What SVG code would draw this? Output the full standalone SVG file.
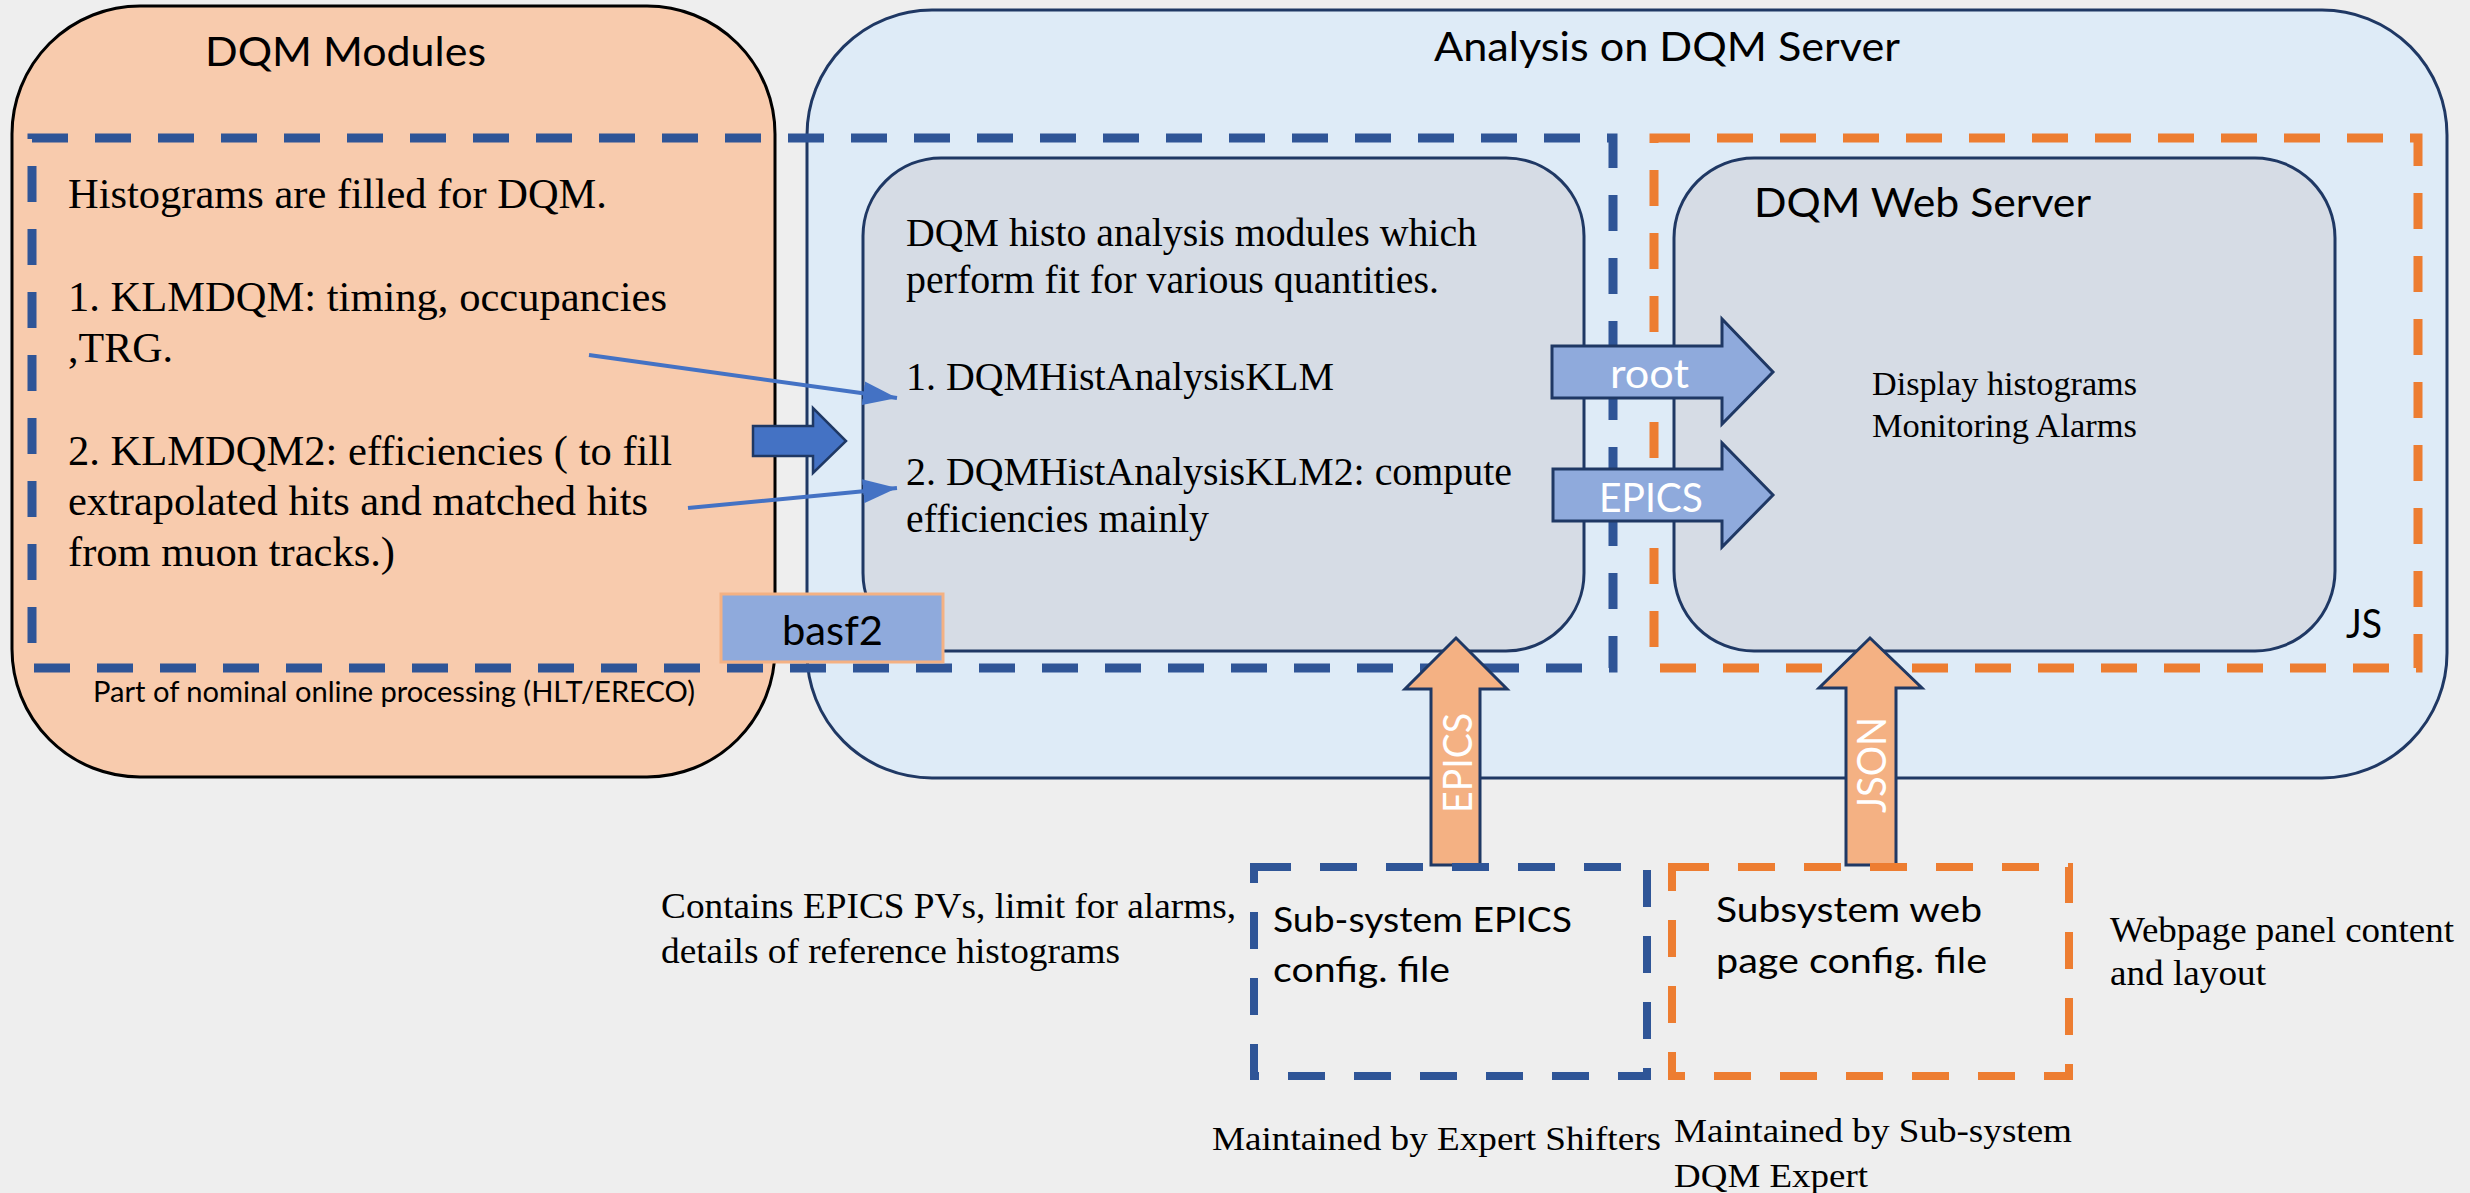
<svg xmlns="http://www.w3.org/2000/svg" width="2470" height="1193" viewBox="0 0 2470 1193">
<defs>
<style>
.sans{font-family:Lato,'Liberation Sans',sans-serif;fill:#000}
.serif{font-family:'Liberation Serif','Times New Roman',serif;fill:#000}
.box-orange{fill:#F8CBAD;stroke:#000;stroke-width:3}
.box-blue{fill:#DEEBF7;stroke:#1F3864;stroke-width:3}
.box-gray{fill:#D6DCE5;stroke:#1F3864;stroke-width:3}
.dash-blue{fill:none;stroke:#2F5597;stroke-width:9;stroke-dasharray:36 27}
.dash-orange{fill:none;stroke:#ED7D31;stroke-width:9;stroke-dasharray:36 27}
.dash-blue-s{fill:none;stroke:#2F5597;stroke-width:8;stroke-dasharray:37 29}
.dash-orange-s{fill:none;stroke:#ED7D31;stroke-width:8;stroke-dasharray:37 29}
.thin{fill:none;stroke:#4472C4;stroke-width:4;marker-end:url(#ah)}
.blk-dark{fill:#4472C4;stroke:#1F3864;stroke-width:2.5}
.blk-light{fill:#8FAADC;stroke:#1F3864;stroke-width:3}
.blk-orange{fill:#F4B183;stroke:#1F3864;stroke-width:3}
.basf2{fill:#8FAADC;stroke:#F4B183;stroke-width:3}
.w{fill:#fff}
</style>
<marker id="ah" markerUnits="userSpaceOnUse" viewBox="0 0 34 24" refX="34" refY="12" markerWidth="34" markerHeight="24" orient="auto"><path d="M0,0 L34,12 L0,24 Z" fill="#4472C4"/></marker>
</defs>
<rect x="0" y="0" width="2470" height="1193" fill="#EEEEEE"/>

<g id="dqm-modules">
<rect class="box-orange" x="12" y="6" width="763" height="771" rx="128" ry="128"/>
<text class="sans" x="205" y="66" font-size="41" textLength="281" lengthAdjust="spacingAndGlyphs">DQM Modules</text>
<g class="serif" font-size="42">
<text x="68" y="208" textLength="539" lengthAdjust="spacingAndGlyphs">Histograms are filled for DQM.</text>
<text x="68" y="311" textLength="599" lengthAdjust="spacingAndGlyphs">1. KLMDQM: timing, occupancies</text>
<text x="68" y="362" textLength="105" lengthAdjust="spacingAndGlyphs">,TRG.</text>
<text x="68" y="465" textLength="604" lengthAdjust="spacingAndGlyphs">2. KLMDQM2: efficiencies ( to fill</text>
<text x="68" y="515" textLength="580" lengthAdjust="spacingAndGlyphs">extrapolated hits and matched hits</text>
<text x="68" y="566" textLength="327" lengthAdjust="spacingAndGlyphs">from muon tracks.)</text>
</g>
</g>

<g id="analysis-server">
<rect class="box-blue" x="807" y="10" width="1640" height="768" rx="125" ry="125"/>
<text class="sans" x="1434" y="61" font-size="41" textLength="466" lengthAdjust="spacingAndGlyphs">Analysis on DQM Server</text>
</g>

<g id="histo-analysis">
<rect class="box-gray" x="863" y="158" width="721" height="493" rx="78" ry="78"/>
<g class="serif" font-size="41">
<text x="906" y="246" textLength="571" lengthAdjust="spacingAndGlyphs">DQM histo analysis modules which</text>
<text x="906" y="293" textLength="533" lengthAdjust="spacingAndGlyphs">perform fit for various quantities.</text>
<text x="906" y="390" textLength="428" lengthAdjust="spacingAndGlyphs">1. DQMHistAnalysisKLM</text>
<text x="906" y="485" textLength="606" lengthAdjust="spacingAndGlyphs">2. DQMHistAnalysisKLM2: compute</text>
<text x="906" y="532" textLength="303" lengthAdjust="spacingAndGlyphs">efficiencies mainly</text>
</g>
</g>

<g id="web-server">
<rect class="box-gray" x="1674" y="158" width="661" height="493" rx="80" ry="80"/>
<text class="sans" x="1754" y="217" font-size="41" textLength="337" lengthAdjust="spacingAndGlyphs">DQM Web Server</text>
<text class="serif" x="1872" y="395" font-size="34" textLength="265" lengthAdjust="spacingAndGlyphs">Display histograms</text>
<text class="serif" x="1872" y="437" font-size="34" textLength="265" lengthAdjust="spacingAndGlyphs">Monitoring Alarms</text>
</g>

<g id="basf2-region">
<rect class="dash-blue" x="32" y="138" width="1581" height="530"/>
<text class="sans" x="93" y="702" font-size="29" textLength="602" lengthAdjust="spacingAndGlyphs">Part of nominal online processing (HLT/ERECO)</text>
</g>

<g id="js-region">
<rect class="dash-orange" x="1654" y="138" width="764" height="530"/>
<text class="sans" x="2346" y="638" font-size="40" textLength="36" lengthAdjust="spacingAndGlyphs">JS</text>
</g>

<g id="basf2">
<rect class="basf2" x="721" y="594" width="222" height="68"/>
<text class="sans" x="782" y="645" font-size="41" textLength="101" lengthAdjust="spacingAndGlyphs">basf2</text>
</g>

<g id="connectors">
<line class="thin" x1="589" y1="355" x2="897" y2="398"/>
<line class="thin" x1="688" y1="508" x2="897" y2="488"/>
<path class="blk-dark" d="M753,426 L813,426 L813,408 L846,441 L813,473 L813,456 L753,456 Z"/>
<path class="blk-light" d="M1552,346 L1722,346 L1722,319 L1773,372 L1722,424 L1722,398 L1552,398 Z"/>
<text class="sans w" x="1610" y="388" font-size="41" textLength="79" lengthAdjust="spacingAndGlyphs">root</text>
<path class="blk-light" d="M1553,469 L1722,469 L1722,443 L1773,495 L1722,547 L1722,521 L1553,521 Z"/>
<text class="sans w" x="1599" y="512" font-size="41" textLength="104" lengthAdjust="spacingAndGlyphs">EPICS</text>
<path class="blk-orange" d="M1431,865 L1431,689 L1405,689 L1456,638 L1507,689 L1480,689 L1480,865 Z"/>
<text class="sans w" transform="translate(1472,763) rotate(-90)" x="0" y="0" font-size="40" text-anchor="middle" textLength="100" lengthAdjust="spacingAndGlyphs">EPICS</text>
<path class="blk-orange" d="M1846,865 L1846,688 L1819,688 L1870,638 L1922,688 L1896,688 L1896,865 Z"/>
<text class="sans w" transform="translate(1886,765) rotate(-90)" x="0" y="0" font-size="40" text-anchor="middle" textLength="96" lengthAdjust="spacingAndGlyphs">JSON</text>
</g>

<g id="epics-config">
<rect class="dash-blue-s" x="1254" y="867" width="393" height="209"/>
<text class="sans" x="1273" y="932" font-size="35" textLength="299" lengthAdjust="spacingAndGlyphs">Sub-system EPICS</text>
<text class="sans" x="1273" y="982" font-size="35" textLength="177" lengthAdjust="spacingAndGlyphs">config. file</text>
</g>

<g id="web-config">
<rect class="dash-orange-s" x="1672" y="867" width="397" height="209"/>
<text class="sans" x="1716" y="922" font-size="35" textLength="266" lengthAdjust="spacingAndGlyphs">Subsystem web</text>
<text class="sans" x="1716" y="973" font-size="35" textLength="271" lengthAdjust="spacingAndGlyphs">page config. file</text>
</g>

<g id="annotations" class="serif" font-size="35">
<text x="661" y="918" textLength="575" lengthAdjust="spacingAndGlyphs">Contains EPICS PVs, limit for alarms,</text>
<text x="661" y="963" textLength="459" lengthAdjust="spacingAndGlyphs">details of reference histograms</text>
<text x="2110" y="942" textLength="344" lengthAdjust="spacingAndGlyphs">Webpage panel content</text>
<text x="2110" y="985" textLength="156" lengthAdjust="spacingAndGlyphs">and layout</text>
<text x="1212" y="1150" font-size="33" textLength="449" lengthAdjust="spacingAndGlyphs">Maintained by Expert Shifters</text>
<text x="1674" y="1142" font-size="33" textLength="398" lengthAdjust="spacingAndGlyphs">Maintained by Sub-system</text>
<text x="1674" y="1187" font-size="33" textLength="194" lengthAdjust="spacingAndGlyphs">DQM Expert</text>
</g>
</svg>
